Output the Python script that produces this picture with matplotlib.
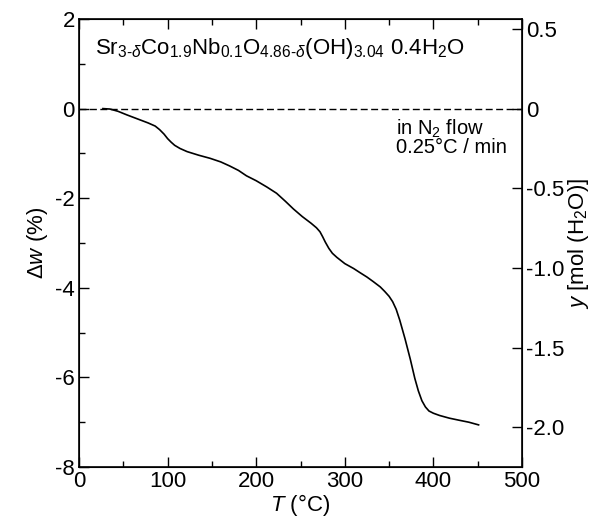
import matplotlib
matplotlib.use("Agg")
import matplotlib.pyplot as plt
from matplotlib.ticker import MultipleLocator

# TG curve
temp = [27, 35, 44, 54, 62, 70, 78, 86, 91, 96, 100, 104, 108, 114, 122,
        135, 148, 160, 170, 180, 189, 200, 212, 223, 233, 242, 252, 262,
        268, 272, 275, 278, 282, 286, 291, 300, 310, 317, 325, 332, 340,
        345, 350, 354, 358, 362, 368, 374, 379, 383, 387, 391, 395, 400,
        407, 418, 430, 440, 451]
dw = [0.0, -0.01, -0.06, -0.14, -0.20, -0.26, -0.32, -0.39, -0.47, -0.57,
      -0.67, -0.75, -0.82, -0.89, -0.96, -1.04, -1.11, -1.19, -1.28, -1.38,
      -1.50, -1.61, -1.75, -1.89, -2.07, -2.24, -2.41, -2.56, -2.66, -2.75,
      -2.86, -2.98, -3.12, -3.23, -3.32, -3.46, -3.57, -3.66, -3.76, -3.86,
      -3.98, -4.08, -4.19, -4.31, -4.48, -4.72, -5.14, -5.60, -6.02, -6.30,
      -6.52, -6.66, -6.75, -6.80, -6.85, -6.91, -6.96, -7.00, -7.06]

xticks = [0, 100, 200, 300, 400, 500]
left_ticks = [-8, -6, -4, -2, 0, 2]
right_ticks = [0.5, 0, -0.5, -1.0, -1.5, -2.0]
right_labels = ["0.5", "0", "-0.5", "-1.0", "-1.5", "-2.0"]
pct_per_mol = 3.556  # left-axis % per mol H2O

plt.rcParams['font.family'] = ['Liberation Sans', 'DejaVu Sans']
plt.rcParams['font.size'] = 16
plt.rcParams['axes.unicode_minus'] = False
plt.rcParams['mathtext.fontset'] = 'custom'
plt.rcParams['mathtext.rm'] = 'Liberation Sans'
plt.rcParams['mathtext.it'] = 'Liberation Sans:italic'
plt.rcParams['mathtext.default'] = 'rm'

fig = plt.figure(figsize=(6.06, 5.21), dpi=100)
ax = fig.add_axes([79 / 606, 1 - 467 / 521, 443 / 606, 448 / 521])

ax.axhline(0, color='black', lw=1.0, ls=(0, (5, 2.5)))
ax.plot(temp, dw, color='black', lw=1.2)

ax.set_xlim(0, 500)
ax.set_ylim(-8, 2)
ax.set_xticks(xticks)
ax.set_yticks(left_ticks)
ax.xaxis.set_minor_locator(MultipleLocator(50))
ax.yaxis.set_minor_locator(MultipleLocator(1))
ax.tick_params(which='both', direction='in', top=True, right=False, width=1)
ax.tick_params(which='major', length=7)
ax.tick_params(which='minor', length=4)
ax.tick_params(axis='x', pad=3)
ax.tick_params(axis='y', pad=3)
for s in ax.spines.values():
    s.set_linewidth(1.2)

ax.set_xlabel('$\\mathit{T}$ (°C)', labelpad=0)
ax.set_ylabel('$\\mathit{\\Delta w}$ (%)', labelpad=4)

ax2 = ax.twinx()
ax2.set_ylim(-8 / pct_per_mol, 2 / pct_per_mol)
ax2.set_yticks(right_ticks)
ax2.set_yticklabels(right_labels)
ax2.tick_params(direction='in', length=7, width=1, pad=3)
ax2.set_ylabel('$\\mathit{y}$ [mol (H$_2$O)]', labelpad=1)

ax.text(0.036, 0.935,
        'Sr$_{3\\text{-}\\mathit{\\delta}}$Co$_{1.9}$Nb$_{0.1}$'
        'O$_{4.86\\text{-}\\mathit{\\delta}}$(OH)$_{3.04}$ 0.4H$_2$O',
        transform=ax.transAxes, ha='left', va='center', fontsize=16)
ax.text(0.716, 0.78, 'in N$_2$ flow\n0.25°C / min', transform=ax.transAxes,
        ha='left', va='top', fontsize=14.5, linespacing=0.9)

fig.savefig('out.png', dpi=100)
